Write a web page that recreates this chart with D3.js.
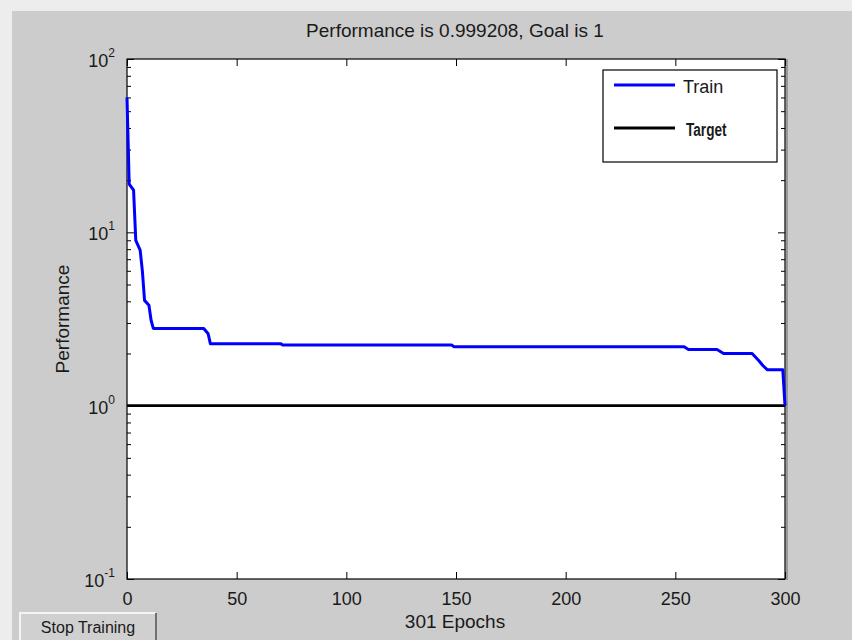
<!DOCTYPE html>
<html>
<head>
<meta charset="utf-8">
<script src="https://cdn.jsdelivr.net/npm/d3@7"></script>
<style>
  body { margin: 0; background: #ededed; }
  svg { display: block; }
  text { font-family: "Liberation Sans", Arial, sans-serif; fill: #1a1a1a; }
</style>
</head>
<body>
<svg width="852" height="640"></svg>
<script>
// training record
const epochs = [0, 1, 3, 4, 6, 7, 8, 10, 11, 12, 35, 37, 38, 70, 71, 148, 149, 254, 256, 269, 272, 285, 288, 290, 292, 299, 300];
const trainPerf = [60, 19, 17.5, 9, 7.9, 6, 4.05, 3.8, 3.1, 2.79, 2.79, 2.6, 2.28, 2.28, 2.24, 2.24, 2.19, 2.19, 2.11, 2.11, 2.0, 2.0, 1.82, 1.70, 1.61, 1.61, 0.999208];
const goal = 1;
const xTicks = [0, 50, 100, 150, 200, 250, 300];
const yMajor = [0.1, 1, 10, 100];
const legendItems = ["Train", "Target"];

const svg = d3.select("svg");

// outer figure panel
svg.append("rect")
    .attr("x", 12).attr("y", 11)
    .attr("width", 840).attr("height", 629)
    .attr("fill", "#cccccc");

const plot = { left: 127, right: 785, top: 59, bottom: 579 };

let x = d3.scaleLinear().domain([0, 300]).range([plot.left, plot.right]);
let y = d3.scaleLog().domain([0.1, 100]).range([plot.bottom, plot.top]);

svg.append("rect")
    .attr("x", plot.left).attr("y", plot.top)
    .attr("width", plot.right - plot.left)
    .attr("height", plot.bottom - plot.top)
    .attr("fill", "white");

// minor log ticks
let yMinor = [];
yMajor.slice(0, -1).forEach(function(d) {
    for (let k = 2; k <= 9; k++) yMinor.push(d * k);
});

function styleAxis(g) {
    g.select(".domain").remove();
    g.selectAll(".tick line").attr("stroke", "#000").attr("stroke-width", 1);
}

// bottom x axis
svg.append("g")
    .attr("transform", "translate(0," + plot.bottom + ")")
    .call(d3.axisBottom(x).tickValues(xTicks).tickSize(-7).tickPadding(13).tickFormat(d3.format("d")))
    .call(styleAxis)
    .call(g => g.selectAll("text").attr("font-size", 18).attr("fill", "#1a1a1a")
        .attr("font-family", "Liberation Sans, Arial, sans-serif"));

// top x axis (ticks only)
svg.append("g")
    .attr("transform", "translate(0," + plot.top + ")")
    .call(d3.axisTop(x).tickValues(xTicks).tickSize(-7).tickFormat(""))
    .call(styleAxis);

// left y axis, major + minor
svg.append("g")
    .attr("transform", "translate(" + plot.left + ",0)")
    .call(d3.axisLeft(y).tickValues(yMajor).tickSize(-7).tickFormat(""))
    .call(styleAxis);
svg.append("g")
    .attr("transform", "translate(" + plot.left + ",0)")
    .call(d3.axisLeft(y).tickValues(yMinor).tickSize(-4).tickFormat(""))
    .call(styleAxis);

// right y axis, major + minor
svg.append("g")
    .attr("transform", "translate(" + plot.right + ",0)")
    .call(d3.axisRight(y).tickValues(yMajor).tickSize(-7).tickFormat(""))
    .call(styleAxis);
svg.append("g")
    .attr("transform", "translate(" + plot.right + ",0)")
    .call(d3.axisRight(y).tickValues(yMinor).tickSize(-4).tickFormat(""))
    .call(styleAxis);

// y tick labels as 10^n
yMajor.forEach(function(d) {
    let t = svg.append("text")
        .attr("x", plot.left - 12)
        .attr("y", y(d) + 8)
        .attr("text-anchor", "end")
        .attr("font-size", 18);
    t.append("tspan").text("10");
    t.append("tspan")
        .attr("font-size", 12)
        .attr("dy", -10)
        .text(Math.round(Math.log10(d)));
});

// frame
svg.append("rect")
    .attr("x", plot.left).attr("y", plot.top)
    .attr("width", plot.right - plot.left)
    .attr("height", plot.bottom - plot.top)
    .attr("fill", "none")
    .attr("stroke", "#000")
    .attr("stroke-width", 1.2);
svg.append("line")
    .attr("x1", plot.right + 2).attr("x2", plot.right + 2)
    .attr("y1", plot.top).attr("y2", plot.bottom + 1)
    .attr("stroke", "#999").attr("stroke-width", 2);

// target line
svg.append("line")
    .attr("x1", x(0)).attr("x2", x(300))
    .attr("y1", y(goal)).attr("y2", y(goal))
    .attr("stroke", "#000")
    .attr("stroke-width", 2.6);

// train curve
const line = d3.line()
    .x(function(d, i) { return x(epochs[i]); })
    .y(function(d) { return y(d); });

svg.append("path")
    .datum(trainPerf)
    .attr("fill", "none")
    .attr("stroke", "#0000ff")
    .attr("stroke-width", 3)
    .attr("stroke-linejoin", "round")
    .attr("d", line);

// title and labels
svg.append("text")
    .attr("x", 455).attr("y", 37)
    .attr("text-anchor", "middle")
    .attr("font-size", 19)
    .text("Performance is 0.999208, Goal is " + goal);

svg.append("text")
    .attr("x", 455).attr("y", 628)
    .attr("text-anchor", "middle")
    .attr("font-size", 19)
    .text((epochs[epochs.length - 1] + 1) + " Epochs");

svg.append("text")
    .attr("transform", "translate(69,319) rotate(-90)")
    .attr("text-anchor", "middle")
    .attr("font-size", 19)
    .text("Performance");

// legend
const legend = svg.append("g");
legend.append("rect")
    .attr("x", 603).attr("y", 70)
    .attr("width", 174).attr("height", 92)
    .attr("fill", "white")
    .attr("stroke", "#000")
    .attr("stroke-width", 1.2);
const legendColors = ["#0000ff", "#000"];
legendItems.forEach(function(name, i) {
    let ly = 85 + i * 43;
    legend.append("line")
        .attr("x1", 614).attr("x2", 675)
        .attr("y1", ly).attr("y2", ly)
        .attr("stroke", legendColors[i])
        .attr("stroke-width", 3);
    if (i == 0) {
        legend.append("text")
            .attr("x", 683)
            .attr("y", ly + 8)
            .attr("font-size", 18)
            .text(name);
    } else {
        // narrow bold face, squeezed horizontally
        legend.append("text")
            .attr("transform", "translate(686," + (ly + 8) + ") scale(0.8,1.1)")
            .attr("font-size", 17)
            .attr("font-weight", "bold")
            .text(name);
    }
});

// stop training button
const btn = svg.append("g");
btn.append("rect")
    .attr("x", 20).attr("y", 613)
    .attr("width", 136).attr("height", 30)
    .attr("fill", "#d0d0d0");
btn.append("path")
    .attr("d", "M20,640 V613 H156")
    .attr("fill", "none").attr("stroke", "#f4f4f4").attr("stroke-width", 2);
btn.append("path")
    .attr("d", "M156,613 V640")
    .attr("fill", "none").attr("stroke", "#707070").attr("stroke-width", 2);
btn.append("text")
    .attr("x", 88).attr("y", 633)
    .attr("text-anchor", "middle")
    .attr("font-size", 16)
    .text("Stop Training");
</script>
</body>
</html>
